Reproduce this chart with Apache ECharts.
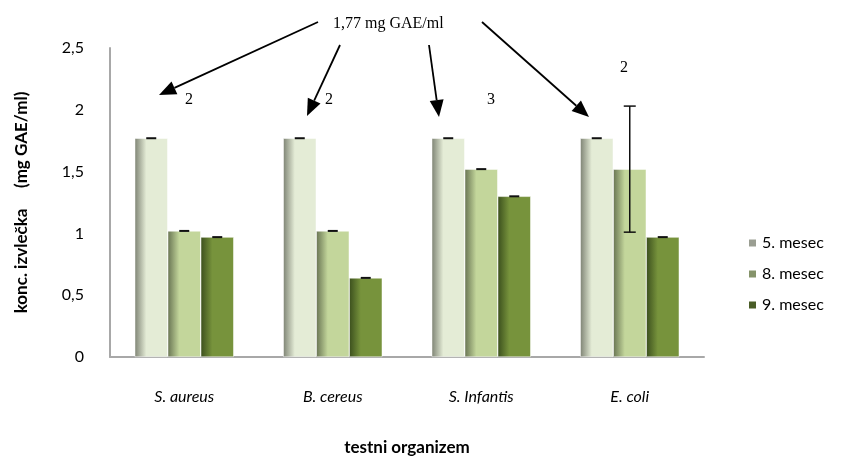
<!DOCTYPE html>
<html>
<head>
<meta charset="utf-8">
<script src="https://cdn.jsdelivr.net/npm/echarts@6/dist/echarts.min.js"></script>
<style>
  html, body { margin: 0; padding: 0; background: #fff; }
  #chart { width: 854px; height: 457px; }
</style>
</head>
<body>
<div id="chart"></div>
<script>
// podatki
const organisms = ["S. aureus", "B. cereus", "S. Infantis", "E. coli"];
const seriesNames = ["5. mesec", "8. mesec", "9. mesec"];
const month5 = [1.77, 1.77, 1.77, 1.77];
const month8 = [1.02, 1.02, 1.52, 1.52];
const month9 = [0.97, 0.64, 1.30, 0.97];
const err5 = [0, 0, 0, 0];
const err8 = [0, 0, 0, 0.51];
const err9 = [0, 0, 0, 0];
const yTicks = [0, 0.5, 1, 1.5, 2, 2.5];

const chart = echarts.init(document.getElementById("chart"));

const barWidth = 33;

function shade(edge, mid) {
  return new echarts.graphic.LinearGradient(0, 0, 1, 0, [
    { offset: 0, color: edge },
    { offset: 0.35, color: mid },
    { offset: 1, color: mid },
  ]);
}

const barColors = [
  shade("#7e8374", "#e4ecd6"),
  shade("#687452", "#c3d69b"),
  shade("#3b4f1d", "#77933c"),
];
const legendColors = ["#9a9e92", "#85936a", "#4a5d27"];

const values = [month5, month8, month9];
const errors = [err5, err8, err9];

// error bars (custom series)
const errData = [];
values.forEach((vals, s) => {
  vals.forEach((v, i) => errData.push([i, v, errors[s][i], s]));
});

function renderError(params, api) {
  const cat = api.value(0);
  const v = api.value(1);
  const e = api.value(2);
  const s = api.value(3);
  const off = (s - 1) * barWidth;
  const top = api.coord([cat, v + e]);
  const bot = api.coord([cat, v - e]);
  const x = top[0] + off;
  const cap = e > 0 ? 12 : 10;
  const style = { stroke: "#111", lineWidth: e > 0 ? 1.5 : 2 };
  const children = [
    { type: "line", shape: { x1: x - cap / 2, y1: top[1], x2: x + cap / 2, y2: top[1] }, style },
  ];
  if (e > 0) {
    children.push({ type: "line", shape: { x1: x, y1: top[1], x2: x, y2: bot[1] }, style });
    children.push({ type: "line", shape: { x1: x - cap / 2, y1: bot[1], x2: x + cap / 2, y2: bot[1] }, style });
  }
  return { type: "group", children };
}

// puscice
function arrow(x1, y1, x2, y2) {
  const ang = Math.atan2(y2 - y1, x2 - x1);
  const len = 17, half = 7;
  const bx = x2 - len * Math.cos(ang), by = y2 - len * Math.sin(ang);
  const px = -Math.sin(ang) * half, py = Math.cos(ang) * half;
  return [
    { type: "line", shape: { x1, y1, x2: bx, y2: by }, style: { stroke: "#000", lineWidth: 1.8 } },
    { type: "polygon", shape: { points: [[x2, y2], [bx + px, by + py], [bx - px, by - py]] }, style: { fill: "#000" } },
  ];
}

const serifFont = "'Liberation Serif', 'DejaVu Serif', serif";
const annotations = [
  ...arrow(318, 22, 159, 95),
  ...arrow(340, 45, 307, 116),
  ...arrow(429, 45, 439, 117),
  ...arrow(482, 22, 589, 117),
  { type: "text", left: 333, top: 16, style: { text: "1,77 mg GAE/ml", font: "16px " + serifFont, fill: "#000" } },
  { type: "text", left: 185, top: 92, style: { text: "2", font: "16px " + serifFont, fill: "#000" } },
  { type: "text", left: 325, top: 92, style: { text: "2", font: "16px " + serifFont, fill: "#000" } },
  { type: "text", left: 487, top: 92, style: { text: "3", font: "16px " + serifFont, fill: "#000" } },
  { type: "text", left: 620, top: 60, style: { text: "2", font: "16px " + serifFont, fill: "#000" } },
];

const uiFont = "Lato, 'Open Sans', sans-serif";

const option = {
  animation: false,
  backgroundColor: "#fff",
  grid: { left: 110, right: 150, top: 48, bottom: 100, outerBoundsMode: "none", containLabel: false },
  legend: {
    orient: "vertical",
    left: 742,
    top: 230,
    itemWidth: 9,
    itemHeight: 9,
    itemGap: 15,
    icon: "rect",
    textStyle: { fontFamily: uiFont, fontSize: 16, color: "#000" },
    data: seriesNames.map((n, i) => ({ name: n, itemStyle: { color: legendColors[i] } })),
  },
  xAxis: {
    type: "category",
    data: organisms,
    name: "testni organizem",
    nameLocation: "middle",
    nameGap: 82,
    nameTextStyle: { fontFamily: uiFont, fontSize: 17, fontWeight: "bold", color: "#000" },
    axisLine: { lineStyle: { color: "#a8a8a8", width: 2 } },
    axisTick: { show: false },
    axisLabel: { fontFamily: uiFont, fontSize: 16, fontStyle: "italic", color: "#000", margin: 32 },
  },
  yAxis: {
    type: "value",
    min: yTicks[0],
    max: yTicks[yTicks.length - 1],
    interval: 0.5,
    name: "konc. izvlečka     (mg GAE/ml)",
    nameLocation: "middle",
    nameGap: 80,
    nameTextStyle: { fontFamily: uiFont, fontSize: 17, fontWeight: "bold", color: "#000" },
    axisLine: { show: true, lineStyle: { color: "#a8a8a8", width: 2 } },
    axisTick: { show: false },
    splitLine: { show: false },
    axisLabel: {
      fontFamily: uiFont,
      fontSize: 16,
      color: "#000",
      margin: 26,
      formatter: (v) => String(v).replace(".", ","),
    },
  },
  series: [
    ...values.map((vals, s) => ({
      name: seriesNames[s],
      type: "bar",
      data: vals,
      barWidth: barWidth,
      barGap: "0%",
      itemStyle: { color: barColors[s], borderColor: "#ffffff", borderWidth: 0.5 },
    })),
    {
      type: "custom",
      renderItem: renderError,
      data: errData,
      encode: { x: 0, y: 1 },
      z: 10,
      silent: true,
    },
  ],
  graphic: annotations,
};

chart.setOption(option);
</script>
</body>
</html>
